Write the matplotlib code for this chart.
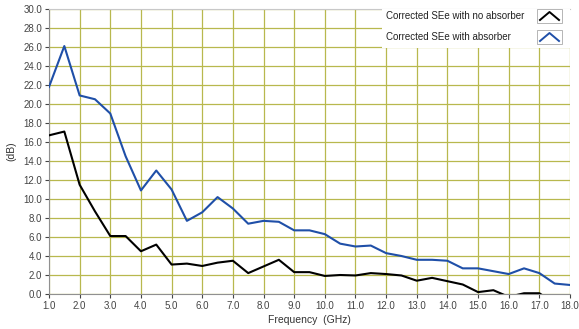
import numpy as np
import matplotlib
matplotlib.use('Agg')
from matplotlib import pyplot as plt
from matplotlib.lines import Line2D
from matplotlib.patches import Rectangle

plt.rcParams['font.family'] = ['Liberation Sans', 'DejaVu Sans']

freq = np.arange(1.0, 18.01, 0.5)

se_no_absorber = [16.7, 17.1, 11.5, 8.7, 6.1, 6.1, 4.5, 5.2, 3.1, 3.2,
                  2.95, 3.3, 3.5, 2.2, 2.9, 3.6, 2.3, 2.3, 1.9, 2.0,
                  1.95, 2.2, 2.1, 1.95, 1.4, 1.7, 1.35, 1.0, 0.2, 0.4,
                  -0.3, 0.08, 0.08, -1.0, -1.0]
se_absorber = [21.8, 26.1, 20.9, 20.5, 19.0, 14.5, 10.9, 13.0, 11.0, 7.7,
               8.6, 10.2, 9.0, 7.4, 7.7, 7.6, 6.7, 6.7, 6.3, 5.3,
               5.0, 5.1, 4.3, 4.0, 3.6, 3.6, 3.5, 2.7, 2.7, 2.4,
               2.1, 2.7, 2.2, 1.1, 0.95]

legend_labels = ['Corrected SEe with no absorber', 'Corrected SEe with absorber']
colors = ['black', '#1f4fa8']

x_ticks = np.arange(1.0, 18.01, 1.0)
y_ticks = np.arange(0.0, 30.01, 2.0)

fig = plt.figure(figsize=(5.79, 3.29), dpi=100)
ax = fig.add_axes([49 / 579, 1 - 294 / 329, 521 / 579, 285 / 329])

grid_col = '#b8b84e'
for xv in x_ticks:
    ax.axvline(xv, color=grid_col, lw=0.9, zorder=0)
for yv in y_ticks:
    ax.axhline(yv, color=grid_col, lw=0.9, zorder=0)

ax.plot(freq, se_no_absorber, color=colors[0], lw=1.5, zorder=3)
ax.plot(freq, se_absorber, color=colors[1], lw=1.5, zorder=3)

ax.set_xlim(1.0, 18.0)
ax.set_ylim(0.0, 30.0)
ax.set_xticks(x_ticks)
ax.set_yticks(y_ticks)
ax.set_xticklabels(['%.1f' % v for v in x_ticks])
ax.set_yticklabels(['%.1f' % v for v in y_ticks])
ax.tick_params(labelsize=7, colors='#444444', length=3, width=0.8, pad=2)

ax.spines['right'].set_visible(False)
ax.spines['top'].set_color('#c8c8c8')
ax.spines['left'].set_color('#909090')
ax.spines['bottom'].set_color('#909090')

ax.set_xlabel('Frequency  (GHz)', fontsize=7.5, color='#333333', labelpad=3)
ax.set_ylabel('(dB)', fontsize=7.5, color='#333333', labelpad=5)

# legend box drawn by hand
ax.add_patch(Rectangle((382 / 579, 1 - 48 / 329), 190 / 579, 39 / 329,
                       transform=fig.transFigure, facecolor='white',
                       edgecolor='none', zorder=4))
for i, (lab, c) in enumerate(zip(legend_labels, colors)):
    yc = 1 - (16 + 21 * i) / 329
    fig.text(386 / 579, yc, lab, fontsize=7, color='#222222', va='center')
    fig.add_artist(Rectangle((537 / 579, yc - 7 / 329), 25 / 579, 14 / 329,
                             transform=fig.transFigure, facecolor='white',
                             edgecolor='#aaaaaa', lw=0.6, zorder=5))
    fig.add_artist(Line2D([540 / 579, 549.5 / 579, 559 / 579],
                          [yc - 4 / 329, yc + 4 / 329, yc - 4 / 329],
                          transform=fig.transFigure, color=c, lw=1.4, zorder=6))

fig.savefig('out.png', dpi=100)
